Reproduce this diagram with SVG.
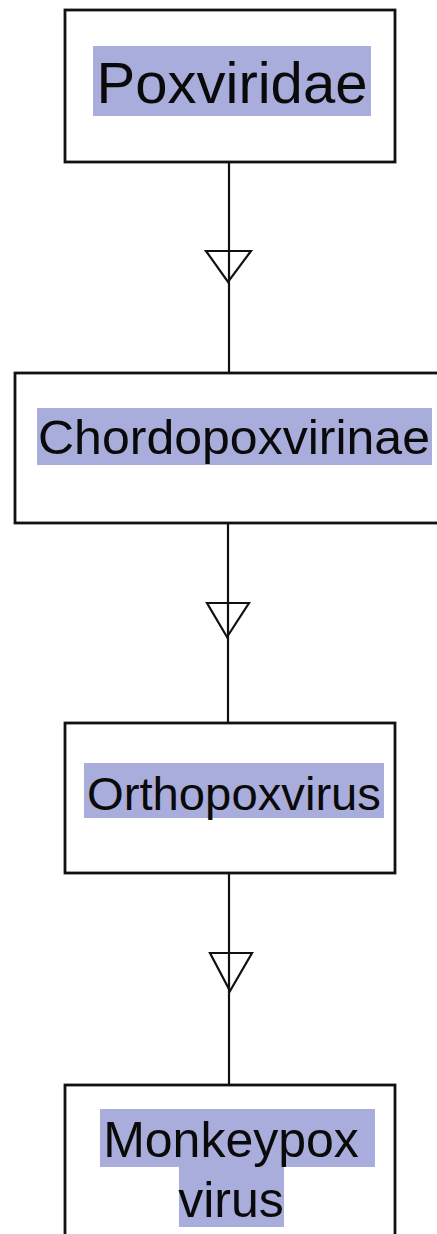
<svg xmlns="http://www.w3.org/2000/svg" width="437" height="1234" viewBox="0 0 437 1234">
<style>
.box{fill:#fff;stroke:#111;stroke-width:2.8}
.hl{fill:#a9addb}
.t{font-family:"Liberation Sans",Arial,sans-serif;fill:#0a0a0a;text-anchor:middle}
.ln{stroke:#111;stroke-width:2.2;fill:none}
.tri{fill:none;stroke:#111;stroke-width:2.2;stroke-linejoin:miter}
</style>
<rect width="437" height="1234" fill="#fff"/>
<g id="connectors">
<line class="ln" x1="229" y1="162" x2="229" y2="373"/>
<polygon class="tri" points="206,251 251,251 228,282"/>
<line class="ln" x1="228" y1="523" x2="228" y2="723"/>
<polygon class="tri" points="207,603 249,603 227,637"/>
<line class="ln" x1="229" y1="873" x2="229" y2="1085"/>
<polygon class="tri" points="210,953 252,953 230,991"/>
</g>
<g id="node-poxviridae">
<rect class="box" x="65" y="10" width="330" height="152"/>
<rect class="hl" x="93" y="46" width="278" height="70"/>
<text class="t" x="232" y="103" font-size="58">Poxviridae</text>
</g>
<g id="node-chordopoxvirinae">
<rect class="box" x="15" y="373" width="430" height="150"/>
<rect class="hl" x="37" y="408" width="395" height="57"/>
<text class="t" x="234" y="454" font-size="49" textLength="392" lengthAdjust="spacingAndGlyphs">Chordopoxvirinae</text>
</g>
<g id="node-orthopoxvirus">
<rect class="box" x="65" y="723" width="330" height="150"/>
<rect class="hl" x="84" y="763" width="300" height="55"/>
<text class="t" x="234" y="810" font-size="46" textLength="294" lengthAdjust="spacingAndGlyphs">Orthopoxvirus</text>
</g>
<g id="node-monkeypox">
<rect class="box" x="65" y="1085" width="330" height="160"/>
<rect class="hl" x="100" y="1109" width="275" height="58"/>
<rect class="hl" x="179" y="1167" width="105" height="60"/>
<text class="t" x="231" y="1157" font-size="50">Monkeypox</text>
<text class="t" x="231" y="1217" font-size="50">virus</text>
</g>
</svg>
